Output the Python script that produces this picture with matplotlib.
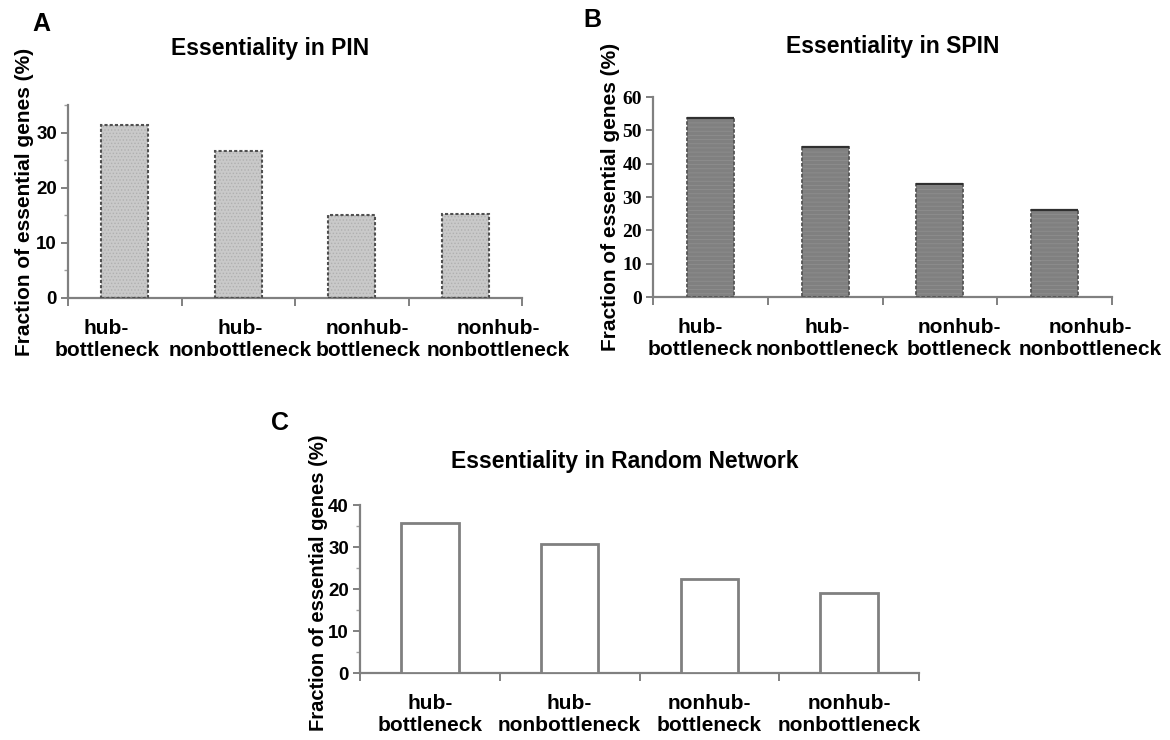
import matplotlib.pyplot as plt
from matplotlib.ticker import MultipleLocator

# categories shared by all three panels
categories = ['hub-\nbottleneck', 'hub-\nnonbottleneck',
              'nonhub-\nbottleneck', 'nonhub-\nnonbottleneck']

# fraction of essential genes (%)
pin_values = [31.3, 26.7, 15.0, 15.3]
spin_values = [53.8, 45.0, 34.0, 26.1]
random_values = [35.7, 30.7, 22.4, 19.0]

W, H = 1170, 740
plt.rcParams['font.family'] = ['Liberation Sans', 'DejaVu Sans']
plt.rcParams['hatch.linewidth'] = 0.6

fig = plt.figure(figsize=(W / 100, H / 100), dpi=100)


def add_axes_px(left, right, top, bottom):
    return fig.add_axes([left / W, 1 - bottom / H, (right - left) / W, (bottom - top) / H])


def style_axes(ax, ymax, ystep, minor, tick_font, label_xy, label_pos, ylabel_size=15):
    ax.set_xlim(-0.5, len(categories) - 0.5)
    ax.set_ylim(0, ymax)
    for side in ['top', 'right']:
        ax.spines[side].set_visible(False)
    for side in ['left', 'bottom']:
        ax.spines[side].set_color('#808080')
        ax.spines[side].set_linewidth(1.6)
    # category boundaries get the ticks, labels sit between them
    # (nudged sideways in the narrow panels so the long words don't collide)
    ax.set_xticks([i - 0.5 for i in range(len(categories) + 1)])
    ax.set_xticklabels([])
    ax.set_xticks(label_pos, minor=True)
    ax.set_xticklabels(categories, minor=True, fontsize=15, fontweight='bold',
                       linespacing=1.2)
    ax.tick_params(axis='x', which='major', length=6, width=1.4, color='#808080')
    ax.tick_params(axis='x', which='minor', length=0, pad=15)
    ax.yaxis.set_major_locator(MultipleLocator(ystep))
    if minor:
        ax.yaxis.set_minor_locator(MultipleLocator(ystep / 2))
        ax.tick_params(axis='y', which='minor', length=3, width=1, color='#a0a0a0')
    ax.tick_params(axis='y', which='major', length=5, width=1.4, color='#808080', pad=3)
    for lab in ax.get_yticklabels():
        lab.set_fontsize(tick_font[1])
        lab.set_fontweight('bold')
        lab.set_family(tick_font[0])
    ax.set_ylabel('Fraction of essential genes (%)', fontsize=ylabel_size, fontweight='bold')
    ax.yaxis.set_label_coords(*label_xy)


# ---- A: PIN ----
axA = add_axes_px(68, 522, 105, 298)
axA.bar(range(4), pin_values, width=0.41, color='#c9c9c9', hatch='.....',
        edgecolor='#b0b0b0', linewidth=0, zorder=2)
axA.bar(range(4), pin_values, width=0.41, fill=False, edgecolor='#505050',
        linewidth=1.5, linestyle=(0, (1.5, 1)), zorder=3)
style_axes(axA, 35, 10, True, ('Liberation Sans', 13.5), (-0.075, 0.5),
           [-0.16, 1.02, 2.14, 3.29])

# ---- B: SPIN ----
axB = add_axes_px(653, 1112, 97, 297)
axB.bar(range(4), spin_values, width=0.41, color='#808080', hatch='----',
        edgecolor='#8e8e8e', linewidth=0, zorder=2)
axB.bar(range(4), spin_values, width=0.41, fill=False, edgecolor='#555555',
        linewidth=1.3, linestyle=(0, (2, 1)), zorder=3)
axB.hlines(spin_values, [i - 0.205 for i in range(4)], [i + 0.205 for i in range(4)],
           colors='#303030', linewidth=1.6, zorder=4)
style_axes(axB, 60, 10, False, ('Liberation Serif', 14), (-0.072, 0.5),
           [-0.09, 1.02, 2.17, 3.31])

# ---- C: Random Network ----
axC = add_axes_px(360, 919, 505, 673)
axC.bar(range(4), random_values, width=0.41, color='white',
        edgecolor='#808080', linewidth=2, zorder=3)
style_axes(axC, 40, 10, True, ('Liberation Sans', 13.5), (-0.058, 0.54),
           [0, 1, 2, 3], ylabel_size=14.5)

# titles and panel letters
fig.text(270 / W, 1 - 48 / H, 'Essentiality in PIN', fontsize=16.5,
         fontweight='bold', ha='center', va='center')
fig.text(893 / W, 1 - 47 / H, 'Essentiality in SPIN', fontsize=16.5,
         fontweight='bold', ha='center', va='center')
fig.text(625 / W, 1 - 462 / H, 'Essentiality in Random Network', fontsize=16.5,
         fontweight='bold', ha='center', va='center')
fig.text(41 / W, 1 - 24 / H, 'A', fontsize=18, fontweight='bold', ha='center', va='center')
fig.text(592 / W, 1 - 20 / H, 'B', fontsize=18, fontweight='bold', ha='center', va='center')
fig.text(280 / W, 1 - 423 / H, 'C', fontsize=18, fontweight='bold', ha='center', va='center')

fig.savefig('out.png', dpi=100, facecolor='white')
